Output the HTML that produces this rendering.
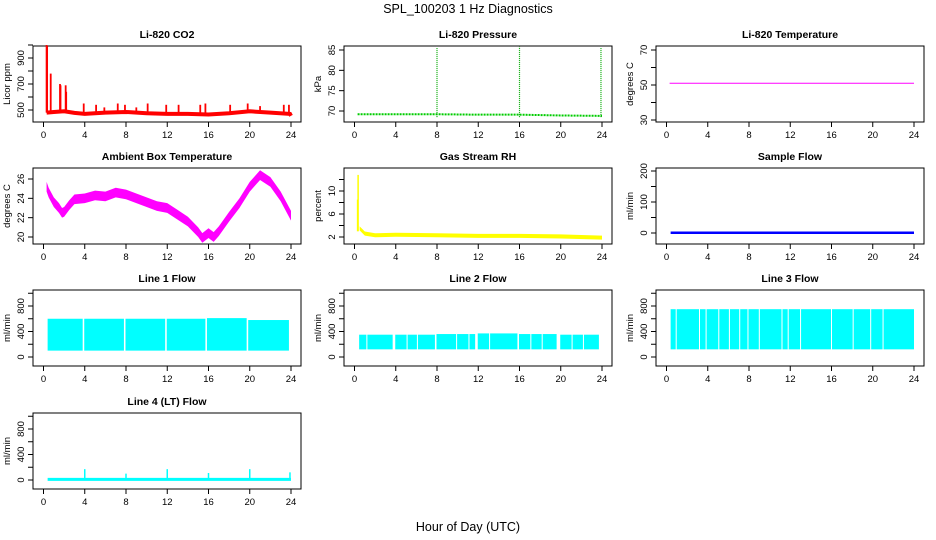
<!DOCTYPE html>
<html><head><meta charset="utf-8"><style>
html,body{margin:0;padding:0;background:#fff}
svg{display:block;font-family:"Liberation Sans",sans-serif}
</style></head><body>
<svg id="chart" width="936" height="540" viewBox="0 0 936 540" xmlns="http://www.w3.org/2000/svg">
<text x="468" y="13" text-anchor="middle" font-size="12.5">SPL_100203  1 Hz Diagnostics</text>
<text x="468" y="531" text-anchor="middle" font-size="12.5">Hour of Day (UTC)</text>
</svg>
<script>
// ---- data ----
const xTicks = [0,4,8,12,16,20,24];
const co2Hours = [0.3,1,2,3,4,6,8,10,12,14,16,18,20,22,23.9,24];
const co2Values = [480,485,490,478,470,480,485,475,470,470,465,475,490,480,470,455];
const co2SpikeHours = [0.3,0.35,0.7,1.6,1.65,2.15,2.2,3.9,5.1,5.9,7.2,7.9,9,10.1,11.9,13.1,15.2,15.7,18.1,19.8,21,23.3,23.8];
const co2SpikeValues = [1000,990,780,700,690,690,640,550,540,520,550,540,520,550,540,540,540,550,540,550,530,540,540];
const presHours = [0.3,4,8,12,16,20,24];
const presValues = [69.2,69.2,69.2,69.1,69.1,68.9,68.8];
const presSpikeHours = [8,16,23.9];
const presSpikeValues = [85.5,85.8,85.5];
const liTempHours = [0.3,24];
const liTempValues = [51,51];
const ambHours = [0.3,0.5,1,1.5,1.8,2,2.5,3,4,5,6,7,8,9,10,11,12,13,14,15,15.4,16,16.5,17,18,19,20,21,22,23,24];
const ambValues = [25.2,24.6,23.6,23,22.5,22.6,23.3,23.9,24,24.3,24.2,24.6,24.4,24,23.6,23.2,23,22.3,21.6,20.5,19.9,20.4,20,20.6,22.1,23.5,25.2,26.4,25.7,24.2,22.2];
const rhHours = [0.5,1,2,4,8,12,16,20,24];
const rhValues = [3.5,2.6,2.3,2.4,2.3,2.2,2.2,2.1,1.9];
const rhSpikeHours = [0.3,0.35];
const rhSpikeValues = [8.5,12.8];
const flowHours = [0.4,24];
const flowValues = [1,1];
const l1Start = [0.4,3.95,7.95,11.95,15.85,19.85];
const l1End = [3.8,7.8,11.8,15.7,19.7,23.8];
const l1Min = [100,100,100,100,100,100];
const l1Max = [600,600,600,600,610,580];
const l2Start = [0.45,3.95,7.95,11.95,15.95,19.95];
const l2End = [3.7,7.8,11.7,15.8,19.6,23.7];
const l2Min = [120,120,120,120,120,120];
const l2Max = [350,350,360,370,360,350];
const l2Gaps = [1.2,5.1,6.1,9.9,11.1,13.1,17.1,18.2,21.1,22.2];
const l3Start = [0.4];
const l3End = [24];
const l3Min = [120];
const l3Max = [750];
const l3Gaps = [0.94,3.2,3.84,5.07,6.1,7.1,7.9,9.0,11.2,11.8,13.0,16.0,18.1,19.8,21.0];
const l4Hours = [0.4,24];
const l4Values = [10,10];
const l4SpikeHours = [4,8,12,16,20,23.9];
const l4SpikeValues = [170,100,170,110,170,120];

// ---- layout ----
const svg = document.getElementById('chart');
const NS = 'http://www.w3.org/2000/svg';
function mk(tag, attrs){ const e=document.createElementNS(NS,tag); for(const k in attrs) e.setAttribute(k,attrs[k]); svg.appendChild(e); return e; }
const colX = [33,344,656];
const rowY = [46,168,290,413];
function makePanel(col,row,title,ylab,yA,yApx,yB,yBpx,ticks,labels){
  const x0=colX[col], y0=rowY[row], w=268, h=76;
  const p = {x0:x0,y0:y0,w:w,h:h};
  p.sx = hr => x0 + 10.5 + hr/24*247.5;
  p.sy = v => yApx + (v-yA)*(yBpx-yApx)/(yB-yA);
  const box = mk('rect',{x:x0,y:y0,width:w,height:h,fill:'none',stroke:'#000','stroke-width':1});
  
  
  const t = mk('text',{x:x0+w/2,y:y0-8,'text-anchor':'middle','font-size':10.5,'font-weight':'bold'});
  t.textContent = title;
  
  
  const yl = mk('text',{x:0,y:0,'text-anchor':'middle','font-size':9.5,transform:`translate(${x0-23},${y0+h/2}) rotate(-90)`});
  yl.textContent = ylab;
  
  
  xTicks.forEach(v=>{
    const x=p.sx(v);
    const tk = mk('line',{x1:x,x2:x,y1:y0+h,y2:y0+h+5,stroke:'#000'});
    
    
    const lb = mk('text',{x:x,y:y0+h+16,'text-anchor':'middle','font-size':9.5});
    lb.textContent = v;
    
    
  });
  ticks.forEach(v=>{
    const y=p.sy(v);
    const tk = mk('line',{x1:x0-5,x2:x0,y1:y,y2:y,stroke:'#000'});
    
    
  });
  labels.forEach(v=>{
    const y=p.sy(v);
    const lb = mk('text',{x:0,y:0,'text-anchor':'middle','font-size':9.5,transform:`translate(${x0-9},${y}) rotate(-90)`});
    lb.textContent = v;
    
    
  });
  return p;
}
function polyline(p,hours,vals,color,width,name,dash){
  const pts = hours.map((h,i)=>p.sx(h)+','+p.sy(vals[i])).join(' ');
  const e = mk('polyline',{points:pts,fill:'none',stroke:color,'stroke-width':width});
  if(dash) e.setAttribute('stroke-dasharray',dash);
  
  
}
function band(p,hours,vals,half,color,name){
  const top = hours.map((h,i)=>p.sx(h)+','+p.sy(vals[i]+half));
  const bot = hours.map((h,i)=>p.sx(h)+','+p.sy(vals[i]-half)).reverse();
  const e = mk('polygon',{points:top.concat(bot).join(' '),fill:color});
  
  
}
function spikes(p,hours,vals,base,color,width,name,dash){
  hours.forEach((h,i)=>{
    const e = mk('line',{x1:p.sx(h),x2:p.sx(h),y1:p.sy(base),y2:p.sy(vals[i]),stroke:color,'stroke-width':width});
    if(dash) e.setAttribute('stroke-dasharray',dash);
    
    
  });
}
function blocks(p,st,en,mn,mx,gaps,name){
  st.forEach((s,i)=>{
    const e = mk('rect',{x:p.sx(s),y:p.sy(mx[i]),width:p.sx(en[i])-p.sx(s),height:p.sy(mn[i])-p.sy(mx[i]),fill:'#00ffff'});
    
    
  });
  gaps.forEach(g=>{
    const e = mk('rect',{x:p.sx(g)-0.5,y:p.y0+8,width:1,height:p.h-20,fill:'#fff'});
    
    
  });
}

// CO2
const pCO2 = makePanel(0,0,'Li-820 CO2','Licor ppm',500,110,900,58,[500,600,700,800,900,1000],[500,700,900]);
polyline(pCO2,co2Hours,co2Values,'#ff0000',4,'co2-series');
spikes(pCO2,co2SpikeHours,co2SpikeValues,480,'#ff0000',1.8,'co2-spike');
// Pressure
const pP = makePanel(1,0,'Li-820 Pressure','kPa',70,111,85,50,[70,75,80,85],[70,75,80,85]);
polyline(pP,presHours,presValues,'#00cc00',2,'pressure-series','2,1');
spikes(pP,presSpikeHours,presSpikeValues,68.5,'#00aa00',1.2,'pressure-spike','1,1');
// Li temp
const pT = makePanel(2,0,'Li-820 Temperature','degrees C',30,120,70,50,[30,40,50,60,70],[30,50,70]);
polyline(pT,liTempHours,liTempValues,'#ff00ff',1,'li820-temp-series');
// Ambient
const pA = makePanel(0,1,'Ambient Box Temperature','degrees C',20,237,26,179,[20,22,24,26],[20,22,24,26]);
band(pA,ambHours,ambValues,0.5,'#ff00ff','ambient-temp-series');
// RH
const pR = makePanel(1,1,'Gas Stream RH','percent',2,237,10,191,[2,4,6,8,10,12],[2,6,10]);
band(pR,rhHours,rhValues,0.35,'#ffff00','rh-series');
spikes(pR,rhSpikeHours,rhSpikeValues,3,'#ffff00',1.5,'rh-spike');
// Sample flow
const pS = makePanel(2,1,'Sample Flow','ml/min',0,233,200,171,[0,50,100,150,200],[0,100,200]);
polyline(pS,flowHours,flowValues,'#0000ff',2.5,'sample-flow-series');
// Lines
const flowTicks=[0,200,400,600,800,1000], flowLabels=[0,400,800];
const p1 = makePanel(0,2,'Line 1 Flow','ml/min',0,357,800,306,flowTicks,flowLabels);
blocks(p1,l1Start,l1End,l1Min,l1Max,[],'line1-flow-block');
const p2 = makePanel(1,2,'Line 2 Flow','ml/min',0,357,800,306,flowTicks,flowLabels);
blocks(p2,l2Start,l2End,l2Min,l2Max,l2Gaps,'line2-flow-block');
const p3 = makePanel(2,2,'Line 3 Flow','ml/min',0,357,800,306,flowTicks,flowLabels);
blocks(p3,l3Start,l3End,l3Min,l3Max,l3Gaps,'line3-flow-block');
const p4 = makePanel(0,3,'Line 4 (LT) Flow','ml/min',0,480,800,429,flowTicks,flowLabels);
polyline(p4,l4Hours,l4Values,'#00ffff',3,'line4-flow-series');
spikes(p4,l4SpikeHours,l4SpikeValues,10,'#00ffff',1.5,'line4-spike');
</script>
</body></html>
